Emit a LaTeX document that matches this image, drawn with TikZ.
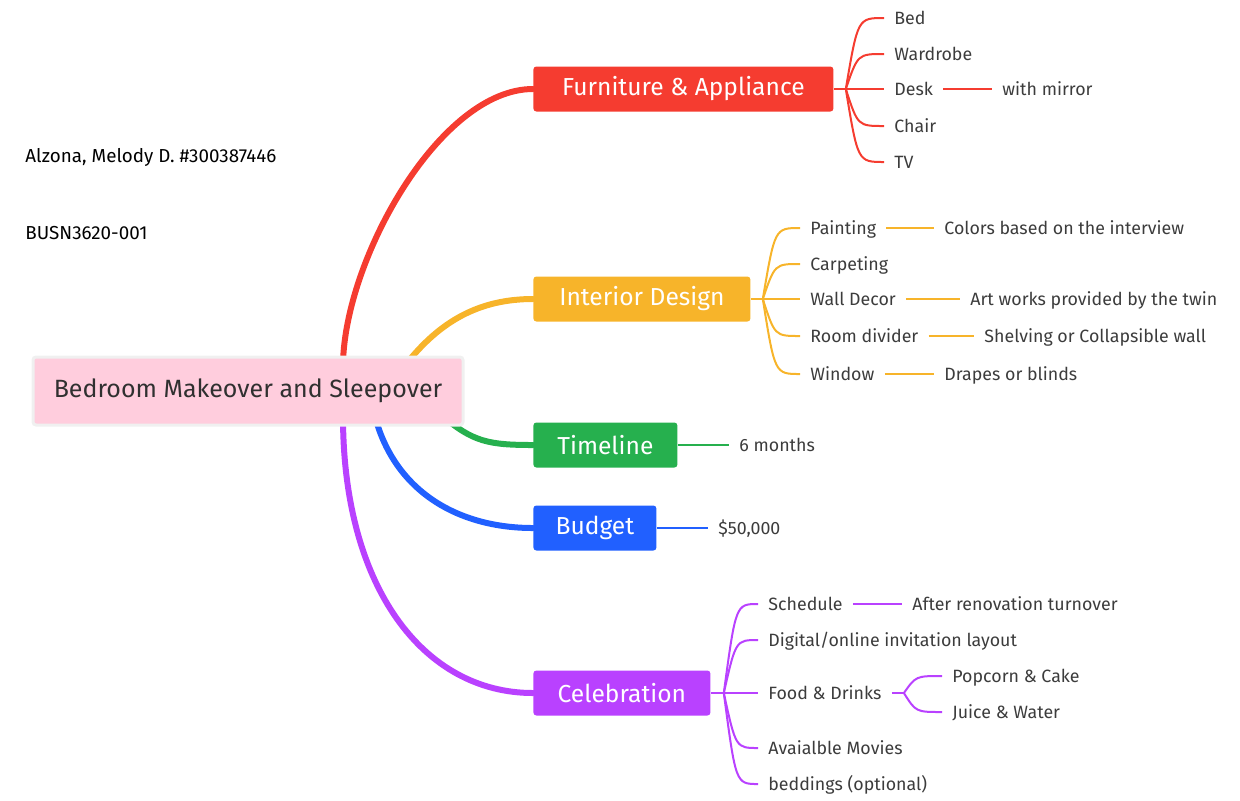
\documentclass[tikz,border=0pt]{standalone}
\usepackage{fontspec}
\setmainfont{Fira Sans}
\usetikzlibrary{positioning,calc,backgrounds}

\definecolor{furred}{RGB}{245,60,48}
\definecolor{intorange}{RGB}{247,180,42}
\definecolor{timegreen}{RGB}{38,176,78}
\definecolor{budblue}{RGB}{33,96,255}
\definecolor{celpurple}{RGB}{185,65,255}
\definecolor{rootpink}{RGB}{255,205,221}
\definecolor{leafgray}{RGB}{60,60,60}

\tikzset{
  topic/.style={rounded corners=1.5pt, text=white, anchor=west, inner sep=0pt,
    minimum height=22.5pt, font=\fontsize{12.3}{14}\selectfont},
  leaf/.style={anchor=west, text=leafgray, inner xsep=5pt, inner ysep=1pt,
    text height=7pt, text depth=1pt, font=\fontsize{8.9}{10}\selectfont},
  trunk/.style={line width=3pt, line cap=round},
  twig/.style={line width=1pt},
}

\begin{document}
\begin{tikzpicture}[x=0.5pt,y=-0.5pt]
\useasboundingbox (0,0) rectangle (1240,800);

% Author notes
\node[anchor=west, inner sep=0pt, font=\fontsize{9.4}{11}\selectfont] (author) at (25,157) {Alzona, Melody D. \#300387446};
\node[anchor=west, inner sep=0pt, font=\fontsize{9.4}{11}\selectfont] (course) at (25,233) {BUSN3620-001};

% Central topic
\node[fill=rootpink, draw=black!6, line width=1.5pt, rounded corners=1.5pt,
  minimum width=215pt, minimum height=34pt, text=leafgray!80!black,
  font=\fontsize{12.5}{15}\selectfont] (root) at (248,391) {Bedroom Makeover and Sleepover};

% Main topics
\node[topic, fill=furred, minimum width=150pt] (fur) at (533,89) {Furniture \& Appliance};
\node[topic, fill=intorange, minimum width=108.5pt] (int) at (533,299) {Interior Design};
\node[topic, fill=timegreen, minimum width=72pt] (time) at (533,445) {Timeline};
\node[topic, fill=budblue, minimum width=61.5pt] (bud) at (533,528) {Budget};
\node[topic, fill=celpurple, minimum width=88.5pt] (cel) at (533,693) {Celebration};

% Main branches behind the central topic
\begin{scope}[on background layer]
\draw[trunk, furred] ($(root.north)+(95,8)$) .. controls +(2,-105) and +(-93,0) .. (fur.west);
\draw[trunk, intorange] ($(root.north)+(157,10)$) .. controls +(35,-45) and +(-53,0) .. (int.west);
\draw[trunk, timegreen] ($(root.south)+(195,-10)$) .. controls +(30,25) and +(-45,0) .. (time.west);
\draw[trunk, budblue] ($(root.south)+(127,-10)$) .. controls +(20,75) and +(-75,0) .. (bud.west);
\draw[trunk, celpurple] ($(root.south)+(95,-10)$) .. controls +(0,170) and +(-110,0) .. (cel.west);
\end{scope}

% Furniture & Appliance
\node[leaf] (bed) at (884,18) {Bed};
\node[leaf] (wardrobe) at (884,54) {Wardrobe};
\node[leaf] (desk) at (884,89) {Desk};
\node[leaf] (chair) at (884,126) {Chair};
\node[leaf] (tv) at (884,162) {TV};
\node[leaf] (mirror) at (992,89) {with mirror};
\coordinate (furj) at ($(fur.east)+(12,0)$);
\draw[twig, furred] (fur.east) -- (furj);
\foreach \c in {bed,wardrobe,desk,chair,tv}
  \draw[twig, furred] (furj) .. controls ($(furj |- \c.west)+(12,0)$) .. (\c.west);
\draw[twig, furred] (desk.east) -- (mirror.west);

% Interior Design
\node[leaf] (painting) at (800,228) {Painting};
\node[leaf] (carpeting) at (800,264) {Carpeting};
\node[leaf] (walldecor) at (800,299) {Wall Decor};
\node[leaf] (divider) at (800,336) {Room divider};
\node[leaf] (window) at (800,374) {Window};
\node[leaf] (colors) at (934,228) {Colors based on the interview};
\node[leaf] (artworks) at (960,299) {Art works provided by the twin};
\node[leaf] (shelving) at (974,336) {Shelving or Collapsible wall};
\node[leaf] (drapes) at (934,374) {Drapes or blinds};
\coordinate (intj) at ($(int.east)+(12,0)$);
\draw[twig, intorange] (int.east) -- (intj);
\foreach \c in {painting,carpeting,walldecor,divider,window}
  \draw[twig, intorange] (intj) .. controls ($(intj |- \c.west)+(12,0)$) .. (\c.west);
\draw[twig, intorange] (painting.east) -- (colors.west);
\draw[twig, intorange] (walldecor.east) -- (artworks.west);
\draw[twig, intorange] (divider.east) -- (shelving.west);
\draw[twig, intorange] (window.east) -- (drapes.west);

% Timeline and Budget
\node[leaf] (months) at (729,445) {6 months};
\draw[twig, timegreen] (time.east) -- (months.west);
\node[leaf] (money) at (708,528) {\$50,000};
\draw[twig, budblue] (bud.east) -- (money.west);

% Celebration
\node[leaf] (schedule) at (758,604) {Schedule};
\node[leaf] (invite) at (758,640) {Digital/online invitation layout};
\node[leaf] (food) at (758,693) {Food \& Drinks};
\node[leaf] (movies) at (758,748) {Avaialble Movies};
\node[leaf] (beddings) at (758,784) {beddings (optional)};
\node[leaf] (after) at (902,604) {After renovation turnover};
\node[leaf] (popcorn) at (942,676) {Popcorn \& Cake};
\node[leaf] (juice) at (942,712) {Juice \& Water};
\coordinate (celj) at ($(cel.east)+(13,0)$);
\draw[twig, celpurple] (cel.east) -- (celj);
\foreach \c in {schedule,invite,food,movies,beddings}
  \draw[twig, celpurple] (celj) .. controls ($(celj |- \c.west)+(12,0)$) .. (\c.west);
\draw[twig, celpurple] (schedule.east) -- (after.west);
\coordinate (foodj) at ($(food.east)+(12,0)$);
\draw[twig, celpurple] (food.east) -- (foodj);
\foreach \c in {popcorn,juice}
  \draw[twig, celpurple] (foodj) .. controls ($(foodj |- \c.west)+(12,0)$) .. (\c.west);

\end{tikzpicture}
\end{document}
